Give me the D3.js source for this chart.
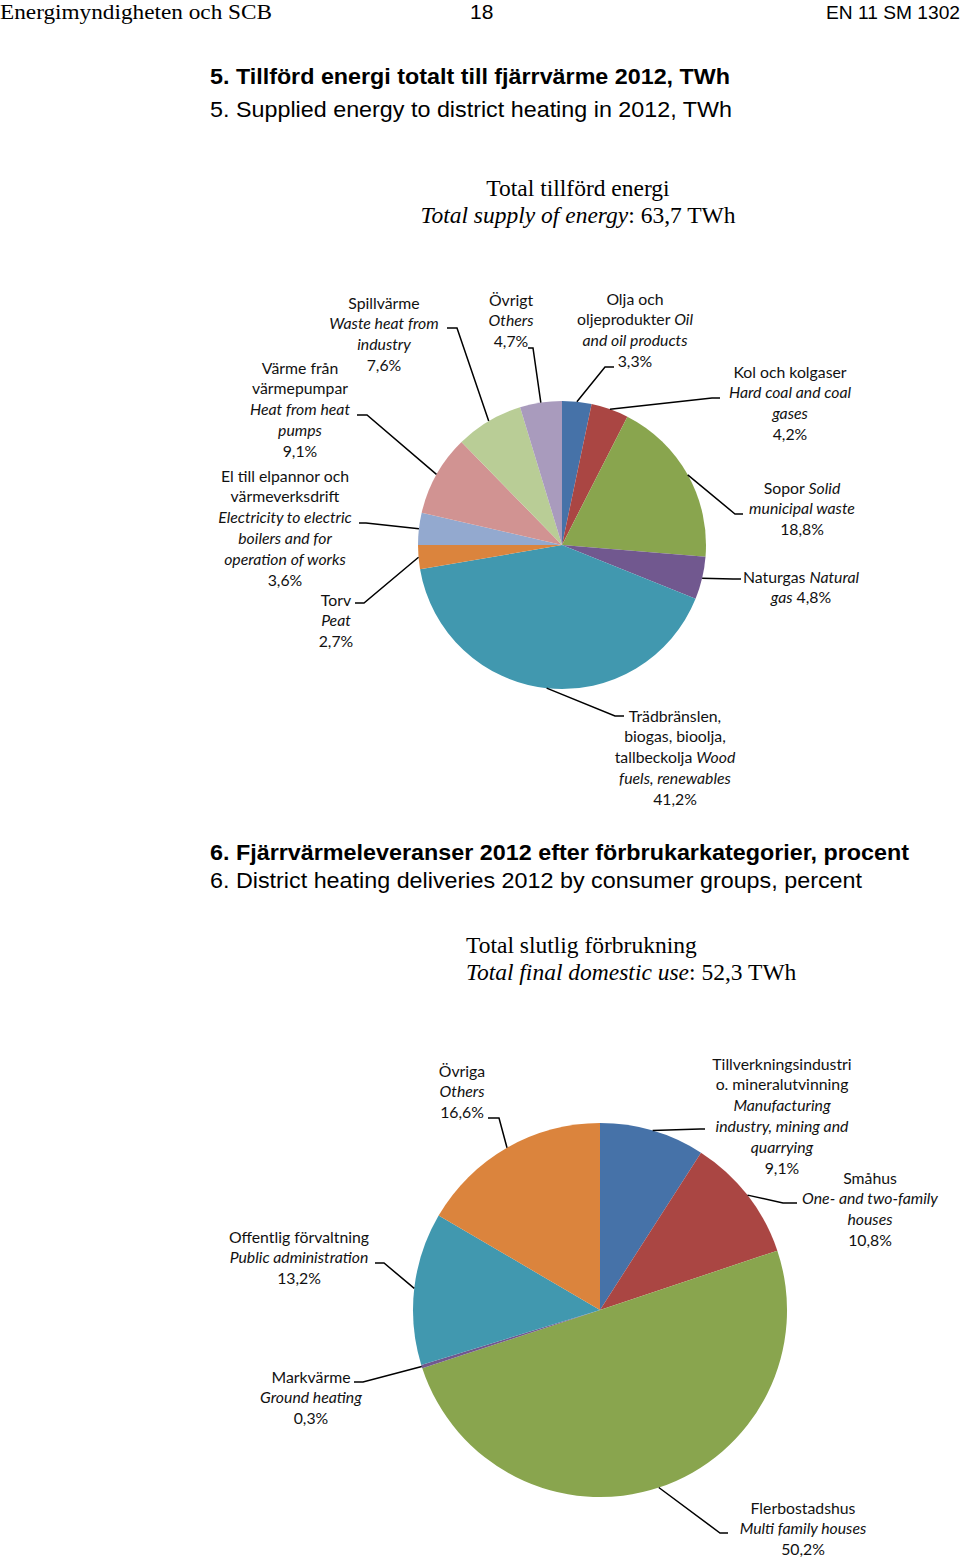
<!DOCTYPE html>
<html>
<head>
<meta charset="utf-8">
<script src="https://cdn.jsdelivr.net/npm/d3@7"></script>
<style>
  body { margin: 0; background: #fff; }
  svg { display: block; }
</style>
</head>
<body>
<svg id="page"></svg>
<script>
// chart 5: supplied energy, share in percent, clockwise from 12 o'clock
const supplyNames = ["Olja", "Kol", "Sopor", "Naturgas", "Trädbränslen", "Torv", "El", "Värmepumpar", "Spillvärme", "Övrigt"];
const supplyValues = [3.3, 4.2, 18.8, 4.8, 41.2, 2.7, 3.6, 9.1, 7.6, 4.7];
const supplyLabels = [
  ["Olja och", "oljeprodukter *Oil*", "*and oil products*", "{v}"],
  ["Kol och kolgaser", "*Hard coal and coal*", "*gases*", "{v}"],
  ["Sopor *Solid*", "*municipal waste*", "{v}"],
  ["Naturgas *Natural*", "*gas* {v}"],
  ["Trädbränslen,", "biogas, bioolja,", "tallbeckolja *Wood*", "*fuels, renewables*", "{v}"],
  ["Torv", "*Peat*", "{v}"],
  ["El till elpannor och", "värmeverksdrift", "*Electricity to electric*", "*boilers and for*", "*operation of works*", "{v}"],
  ["Värme från", "värmepumpar", "*Heat from heat*", "*pumps*", "{v}"],
  ["Spillvärme", "*Waste heat from*", "*industry*", "{v}"],
  ["Övrigt", "*Others*", "{v}"]
];

// chart 6: deliveries by consumer group, percent
const useNames = ["Tillverkningsindustri", "Småhus", "Flerbostadshus", "Markvärme", "Offentlig förvaltning", "Övriga"];
const useValues = [9.1, 10.8, 50.2, 0.3, 13.2, 16.6];
const useLabels = [
  ["Tillverkningsindustri", "o. mineralutvinning", "*Manufacturing*", "*industry, mining and*", "*quarrying*", "{v}"],
  ["Småhus", "*One- and two-family*", "*houses*", "{v}"],
  ["Flerbostadshus", "*Multi family houses*", "{v}"],
  ["Markvärme", "*Ground heating*", "{v}"],
  ["Offentlig förvaltning", "*Public administration*", "{v}"],
  ["Övriga", "*Others*", "{v}"]
];

const supplyColors = ["#4672A8", "#AA4643", "#89A54E", "#71588F", "#4198AF", "#DB843D", "#93A9CF", "#D19392", "#B9CD96", "#A99BBD"];
const useColors = ["#4672A8", "#AA4643", "#89A54E", "#71588F", "#4198AF", "#DB843D"];

// label placement: text centre x, first line y, leader elbow x/y, leader end x
const supplyLayout = [
  [635, 299, 605, 367, 614],
  [790, 372, 712, 398, 720],
  [802, 488, 735, 514, 743],
  [801, 577, 733, 579, 741],
  [675, 716, 615, 716, 624],
  [336, 600, 364, 603, 355],
  [285, 476, 366, 523, 359],
  [300, 368, 367, 415, 357],
  [384, 303, 457, 328, 447],
  [511, 300, 533, 348, 528]
];
const useLayout = [
  [782, 1064, 700, 1129, 705],
  [870, 1178, 783, 1203, 797],
  [803, 1508, 720, 1533, 728],
  [311, 1377, 363, 1382, 354],
  [299, 1237, 384, 1263, 375],
  [462, 1071, 499, 1118, 488]
];

const W = 960, H = 1558;
const labelFont = "Lato, 'Noto Sans', sans-serif";
const pct = d3.formatLocale({ decimal: ",", thousands: " ", grouping: [3], currency: ["", ""] }).format(".1f");

const svg = d3.select("#page").attr("width", W).attr("height", H);

// page header
svg.append("text").attr("x", 0).attr("y", 19)
  .attr("font-family", "'Liberation Serif', serif").attr("font-size", 22)
  .attr("textLength", 272).attr("lengthAdjust", "spacingAndGlyphs")
  .text("Energimyndigheten och SCB");
svg.append("text").attr("x", 470).attr("y", 19)
  .attr("font-family", "'Liberation Sans', Arial, sans-serif").attr("font-size", 21)
  .text("18");
svg.append("text").attr("x", 826).attr("y", 19)
  .attr("font-family", "'Liberation Sans', Arial, sans-serif").attr("font-size", 19)
  .attr("textLength", 134).attr("lengthAdjust", "spacingAndGlyphs")
  .text("EN 11 SM 1302");

function heading(y, bold, str, width) {
  svg.append("text").attr("x", 210).attr("y", y)
    .attr("font-family", "'Liberation Sans', Arial, sans-serif")
    .attr("font-size", 22).attr("font-weight", bold ? "bold" : "normal")
    .attr("textLength", width).attr("lengthAdjust", "spacingAndGlyphs")
    .text(str);
}
heading(84, true, "5. Tillförd energi totalt till fjärrvärme 2012, TWh", 520);
heading(117, false, "5. Supplied energy to district heating in 2012, TWh", 522);
heading(860, true, "6. Fjärrvärmeleveranser 2012 efter förbrukarkategorier, procent", 699);
heading(888, false, "6. District heating deliveries 2012 by consumer groups, percent", 652);

// chart titles (serif)
function serifLine(x, y, anchor, parts) {
  const t = svg.append("text").attr("x", x).attr("y", y).attr("text-anchor", anchor)
    .attr("font-family", "'Liberation Serif', 'Times New Roman', serif").attr("font-size", 23.5);
  parts.forEach(p => t.append("tspan").attr("font-style", p[1] ? "italic" : "normal").text(p[0]));
}
serifLine(578, 196, "middle", [["Total tillförd energi", false]]);
serifLine(578, 223, "middle", [["Total supply of energy", true], [":  63,7 TWh", false]]);
serifLine(466, 953, "start", [["Total slutlig förbrukning", false]]);
serifLine(466, 980, "start", [["Total final domestic use", true], [": 52,3 TWh", false]]);

function drawPie(cx, cy, r, values, colors, labels, layout) {
  const pie = d3.pie().sort(null).value(d => d);
  const arcs = pie(values);
  const arc = d3.arc().innerRadius(0).outerRadius(r);
  const edge = d3.arc().innerRadius(r).outerRadius(r);
  const g = svg.append("g").attr("transform", `translate(${cx},${cy})`);

  g.selectAll("path.slice")
    .data(arcs)
    .enter()
    .append("path")
    .attr("class", "slice")
    .attr("d", arc)
    .attr("fill", (d, i) => colors[i]);

  // leader lines
  g.selectAll("path.leader")
    .data(arcs)
    .enter()
    .append("path")
    .attr("class", "leader")
    .attr("fill", "none")
    .attr("stroke", "#000")
    .attr("stroke-width", 1.5)
    .attr("d", (d, i) => {
      const p = edge.centroid(d);
      const L = layout[i];
      return d3.line()([p, [L[2] - cx, L[3] - cy], [L[4] - cx, L[3] - cy]]);
    });

  // labels
  arcs.forEach((d, i) => {
    const L = layout[i];
    labels[i].forEach((line, k) => {
      const t = svg.append("text")
        .attr("x", L[0]).attr("y", L[1] + k * 20.8)
        .attr("dy", "0.36em")
        .attr("text-anchor", "middle")
        .attr("font-family", labelFont)
        .attr("font-size", 15.8)
        .attr("fill", "#111");
      const s = line.replace("{v}", pct(values[i]) + "%");
      s.split("*").forEach((part, j) => {
        if (part === "") return;
        t.append("tspan").attr("font-style", j % 2 ? "italic" : "normal").text(part);
      });
    });
  });
}

drawPie(562, 545, 144, supplyValues, supplyColors, supplyLabels, supplyLayout);
drawPie(600, 1310, 187, useValues, useColors, useLabels, useLayout);
</script>
</body>
</html>
